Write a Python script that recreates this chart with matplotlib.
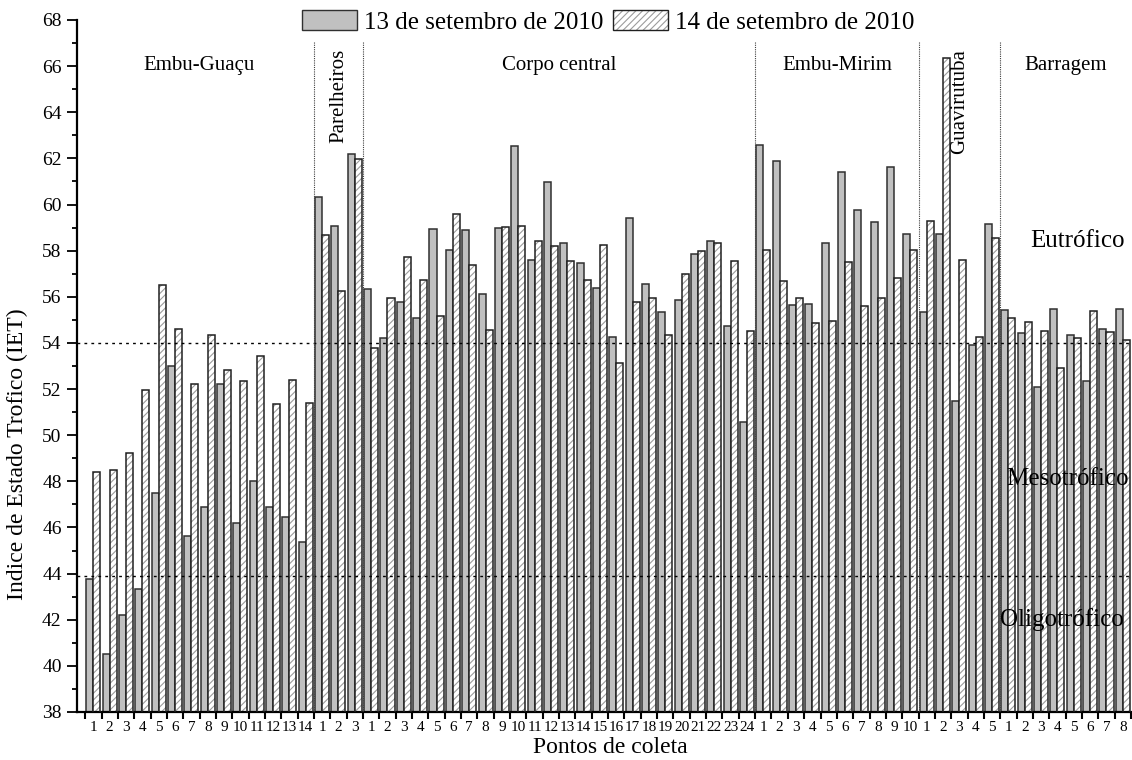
import numpy as np
import matplotlib
matplotlib.use('Agg')
import matplotlib.pyplot as plt
from matplotlib.patches import Patch
from matplotlib.ticker import MultipleLocator

plt.rcParams.update({
    'font.family': ['Liberation Serif', 'DejaVu Serif'],
    'hatch.linewidth': 0.8,
})

# IET per sampling point, grouped by reservoir region
regions = ['Embu-Guaçu', 'Parelheiros', 'Corpo central', 'Embu-Mirim', 'Guavirutuba', 'Barragem']
region_sizes = [14, 3, 24, 10, 5, 8]
rotated = ['Parelheiros', 'Guavirutuba']

iet_13 = [
    # Embu-Guaçu
    43.77, 40.52, 42.21, 43.34, 47.50, 53.02, 45.63, 46.89, 52.22, 46.20, 48.03, 46.89, 46.46, 45.39,
    # Parelheiros
    60.32, 59.08, 62.17,
    # Corpo central
    56.35, 54.23, 55.79, 55.07, 58.94, 58.03, 58.89, 56.10, 59.00, 62.55, 57.59, 60.97,
    58.33, 57.46, 56.38, 54.24, 59.40, 56.55, 55.33, 55.85, 57.86, 58.42, 54.73, 50.56,
    # Embu-Mirim
    62.57, 61.88, 55.64, 55.70, 58.35, 61.39, 59.78, 59.23, 61.63, 58.71,
    # Guavirutuba
    55.32, 58.71, 51.50, 53.92, 59.16,
    # Barragem
    55.42, 54.42, 52.09, 55.45, 54.35, 52.36, 54.59, 55.47,
]
iet_14 = [
    48.42, 48.49, 49.25, 51.96, 56.49, 54.61, 52.22, 54.35, 52.84, 52.35, 53.45, 51.34, 52.40, 51.40,
    58.66, 56.25, 61.98,
    53.79, 55.93, 57.72, 56.75, 55.16, 59.59, 57.40, 54.55, 59.02, 59.06, 58.41, 58.20,
    57.54, 56.72, 58.23, 53.12, 55.77, 55.94, 54.35, 56.98, 57.98, 58.32, 57.54, 54.52,
    58.04, 56.69, 55.93, 54.86, 54.95, 57.49, 55.58, 55.95, 56.82, 58.05,
    59.27, 66.37, 57.58, 54.24, 58.55,
    55.08, 54.89, 54.52, 52.90, 54.22, 55.38, 54.46, 54.12,
]
point_labels = [str(k + 1) for n in region_sizes for k in range(n)]

# trophic class limits and names
limit_eutrofico = 54.0
limit_oligotrofico = 43.9
classes = [('Eutrófico', 63.1, 58.4), ('Mesotrófico', 63.35, 48.1), ('Oligotrófico', 63.05, 42.0)]

x = np.arange(len(iet_13))
w = 0.43

fig = plt.figure(figsize=(11.32, 7.6), dpi=100)
ax = fig.add_axes([77 / 1132, 48 / 760, 1054 / 1132, 692 / 760])

ax.bar(x - w / 2, iet_13, w, color='#c0c0c0', edgecolor='#303030', linewidth=1.1, zorder=2)
# hatch drawn light, outline drawn separately in dark
ax.bar(x + w / 2, iet_14, w, color='white', edgecolor='#9c9c9c', hatch='/////', linewidth=0, zorder=2)
ax.bar(x + w / 2, iet_14, w, fill=False, edgecolor='#202020', linewidth=1.1, zorder=3)

ax.axhline(limit_eutrofico, color='black', ls=(0, (2, 3)), lw=1.0, zorder=4)
ax.axhline(limit_oligotrofico, color='black', ls=(0, (2, 3)), lw=1.0, zorder=4)

# region separators and names
edges = np.cumsum([0] + region_sizes)
for b in edges[1:-1]:
    ax.plot([b - 0.5, b - 0.5], [38, 67.05], color='#404040', ls=(0, (1, 1)), lw=0.8, zorder=4)
for name, a, b in zip(regions, edges[:-1], edges[1:]):
    cx = (a + b - 1) / 2
    if name in rotated:
        ax.text(cx, 66.75, name, rotation=90, ha='center', va='top', fontsize=15, zorder=5)
    else:
        ax.text(cx, 65.85, name, ha='center', va='baseline', fontsize=15, zorder=5)

for name, tx, ty in classes:
    ax.text(tx, ty, name, ha='right', va='center', fontsize=18, zorder=5)

ax.set_xlim(-1, len(x) - 0.5)
ax.set_ylim(38, 68)
ax.set_xticks(x)
ax.set_xticklabels(point_labels, fontsize=11)
ax.set_xticks(np.arange(-0.5, len(x), 1.0), minor=True)
ax.tick_params(axis='x', which='major', length=0, pad=6.5)
ax.tick_params(axis='x', which='minor', length=5, width=1.5, direction='out')
ax.yaxis.set_major_locator(MultipleLocator(2))
ax.yaxis.set_minor_locator(MultipleLocator(1))
ax.tick_params(axis='y', which='major', length=7, width=1.3, labelsize=14, pad=4)
ax.tick_params(axis='y', which='minor', length=3.5, width=1.3)

for s in ['top', 'right']:
    ax.spines[s].set_visible(False)
for s in ['left', 'bottom']:
    ax.spines[s].set_linewidth(1.6)

ax.set_ylabel('Indice de Estado Trofico (IET)', fontsize=17)
ax.yaxis.set_label_coords(-0.046, 0.373)
ax.set_xlabel('Pontos de coleta', fontsize=17)
ax.xaxis.set_label_coords(0.506, -0.036)

h13 = Patch(facecolor='#c0c0c0', edgecolor='#303030', linewidth=1.0)
h14_fill = Patch(facecolor='white', edgecolor='#9c9c9c', hatch='/////', linewidth=0)
h14_edge = Patch(fill=False, edgecolor='#202020', linewidth=1.0)
ax.legend([h13, (h14_fill, h14_edge)], ['13 de setembro de 2010', '14 de setembro de 2010'],
          loc='center', bbox_to_anchor=(0.504, 0.997), ncol=2, frameon=False, fontsize=18,
          handlelength=2.2, handleheight=0.85, handletextpad=0.3, columnspacing=0.35,
          borderpad=0, borderaxespad=0)

fig.savefig('out.png', dpi=100)
